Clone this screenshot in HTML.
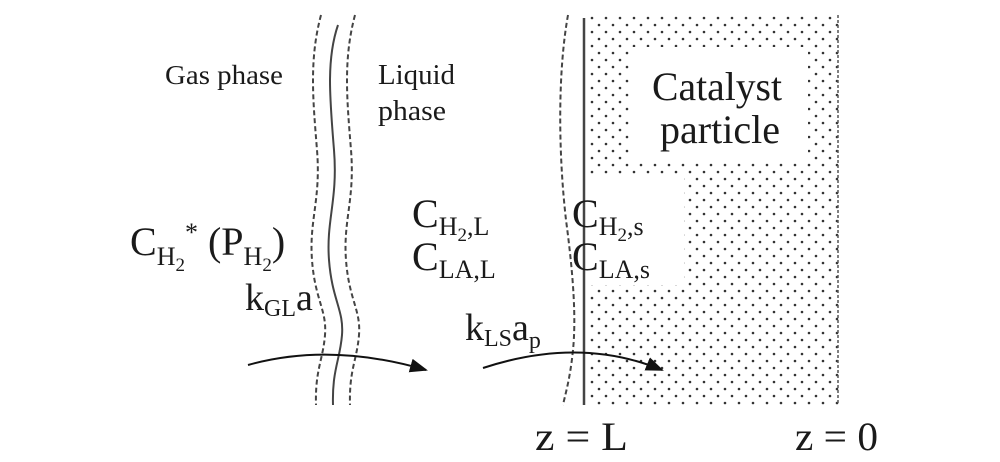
<!DOCTYPE html>
<html><head><style>
html,body{margin:0;padding:0;background:#fff;}
svg{display:block;}
text{fill:#1a1a1a;}
</style></head><body>
<svg width="1000" height="462" viewBox="0 0 1000 462" xmlns="http://www.w3.org/2000/svg" font-family="Liberation Serif, DejaVu Serif, serif">
<defs>
<pattern id="dots" x="589" y="15" width="14" height="14" patternUnits="userSpaceOnUse">
<circle cx="3" cy="3" r="1.3" fill="#333"/>
<circle cx="10" cy="10" r="1.3" fill="#333"/>
</pattern>
<marker id="ah" markerWidth="18" markerHeight="14" refX="16" refY="7" orient="auto" markerUnits="userSpaceOnUse">
<path d="M0,0 L18,7 L0,14 Z" fill="#111"/>
</marker>
</defs>
<rect x="589" y="15" width="250" height="390" fill="url(#dots)"/>
<rect x="632" y="47" width="176" height="116" fill="#fff"/>
<rect x="588" y="175" width="96" height="110" fill="#fff"/>
<line x1="838" y1="15" x2="838" y2="405" stroke="#555" stroke-width="1.5" stroke-dasharray="3,2"/>
<g fill="none" stroke="#444" stroke-width="2">
<path d="M338,25 C326,60 330,100 334,150 C338,200 326,220 329,260 C332,300 344,310 342,335 C340,360 332,370 333,405"/>
<path d="M321,15 C309,60 313,100 317,150 C321,200 309,220 312,260 C315,300 327,310 325,335 C323,360 315,370 316,405" stroke-dasharray="5,3"/>
<path d="M355,15 C343,60 347,100 351,150 C355,200 343,220 346,260 C349,300 361,310 359,335 C357,360 349,370 350,405" stroke-dasharray="5,3"/>
<path d="M568,15 C558,70 558,150 566,220 C574,280 576,320 573,350 C570,380 565,395 563,405" stroke-dasharray="5,3"/>
<line x1="584" y1="18" x2="584" y2="405" stroke-width="2.5"/>
</g>
<path d="M248,365 Q330,342 426,370" fill="none" stroke="#111" stroke-width="2" marker-end="url(#ah)"/>
<path d="M483,368 Q580,336 662,370" fill="none" stroke="#111" stroke-width="2" marker-end="url(#ah)"/>
<g font-family="'Liberation Serif', serif">
<text x="165" y="84" font-size="27" textLength="118" lengthAdjust="spacingAndGlyphs">Gas phase</text>
<text x="378" y="84" font-size="28" textLength="77" lengthAdjust="spacingAndGlyphs">Liquid</text>
<text x="378" y="120" font-size="28" textLength="68" lengthAdjust="spacingAndGlyphs">phase</text>
<text x="652" y="100" font-size="40" textLength="130" lengthAdjust="spacingAndGlyphs">Catalyst</text>
<text x="660" y="143" font-size="40" textLength="120" lengthAdjust="spacingAndGlyphs">particle</text>
<text x="130" y="255" font-size="40">C<tspan font-size="26" dy="10">H</tspan><tspan font-size="19" dy="6">2</tspan><tspan font-size="26" dy="-30">*</tspan><tspan dy="14"> (P</tspan><tspan font-size="26" dy="10">H</tspan><tspan font-size="19" dy="6">2</tspan><tspan dy="-16">)</tspan></text>
<text x="412" y="227" font-size="40">C<tspan font-size="26" dy="8">H</tspan><tspan font-size="19" dy="6">2</tspan><tspan font-size="26" dy="-6">,L</tspan></text>
<text x="412" y="270" font-size="40">C<tspan font-size="26" dy="8">LA,L</tspan></text>
<text x="572" y="227" font-size="40">C<tspan font-size="26" dy="8">H</tspan><tspan font-size="19" dy="6">2</tspan><tspan font-size="26" dy="-6">,s</tspan></text>
<text x="572" y="270" font-size="40">C<tspan font-size="26" dy="8">LA,s</tspan></text>
<text x="245" y="310" font-size="38">k<tspan font-size="24" dy="6">GL</tspan><tspan dy="-6">a</tspan></text>
<text x="465" y="340" font-size="38">k<tspan font-size="24" dy="6">LS</tspan><tspan dy="-6">a</tspan><tspan font-size="24" dy="8">p</tspan></text>
<text x="535" y="450" font-size="40" textLength="93" lengthAdjust="spacingAndGlyphs">z = L</text>
<text x="795" y="450" font-size="40" textLength="83" lengthAdjust="spacingAndGlyphs">z = 0</text>
</g>
</svg>
</body></html>
